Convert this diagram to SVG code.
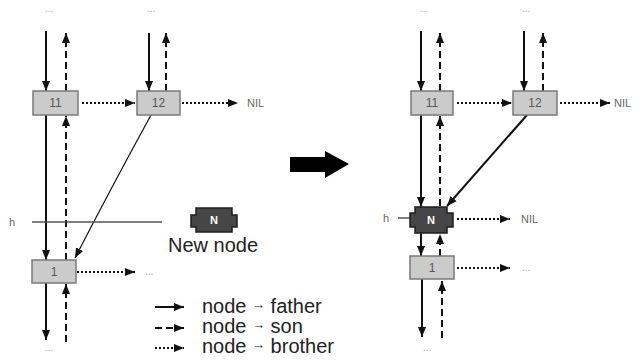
<svg xmlns="http://www.w3.org/2000/svg" width="639" height="363" viewBox="0 0 639 363">
<style>
.nd{fill:#cbcbcb;stroke:#7a7a7a;stroke-width:1.5}
.nn{fill:#464646;stroke:#1e1e1e;stroke-width:1.5}
.lb{font-family:"Liberation Sans",Arial,sans-serif;font-size:12px;fill:#555;text-anchor:middle}
.lw{font-family:"Liberation Sans",Arial,sans-serif;font-size:11px;fill:#fff;text-anchor:middle;font-weight:bold}
.sm{font-family:"Liberation Sans",Arial,sans-serif;font-size:11px;fill:#666}
.dots{font-family:"Liberation Sans",Arial,sans-serif;font-size:10px;fill:#aaa}
.big{font-family:"Liberation Sans",Arial,sans-serif;font-size:20px;fill:#222}
.sol{stroke:#111;stroke-width:2;fill:none}
.das{stroke:#111;stroke-width:2;fill:none;stroke-dasharray:7 4}
.dot{stroke:#111;stroke-width:2;fill:none;stroke-dasharray:2 2}
.thin{stroke:#111;stroke-width:1.2;fill:none}
</style>
<defs>
<marker id="ah" markerUnits="userSpaceOnUse" markerWidth="10" markerHeight="10" viewBox="0 0 10 10" refX="10" refY="5" orient="auto">
<path d="M0,1 L10,5 L0,9 Z" fill="#111"/>
</marker>
</defs>
<g id="connectors">
<line class="sol" x1="46" y1="31" x2="46" y2="91" marker-end="url(#ah)"/>
<line class="das" x1="66" y1="91" x2="66" y2="33" marker-end="url(#ah)"/>
<line class="sol" x1="149" y1="33" x2="149" y2="91" marker-end="url(#ah)"/>
<line class="das" x1="166" y1="91" x2="166" y2="33" marker-end="url(#ah)"/>
<line class="dot" x1="82" y1="103" x2="135" y2="103" marker-end="url(#ah)"/>
<line class="dot" x1="182" y1="103" x2="238" y2="103" marker-end="url(#ah)"/>
<line class="sol" x1="46" y1="115" x2="46" y2="260" marker-end="url(#ah)"/>
<line class="das" x1="66" y1="260" x2="66" y2="116" marker-end="url(#ah)"/>
<line class="sol" x1="46" y1="283" x2="46" y2="340" marker-end="url(#ah)"/>
<line class="das" x1="66" y1="342" x2="66" y2="284" marker-end="url(#ah)"/>
<line class="dot" x1="77" y1="272" x2="135" y2="272" marker-end="url(#ah)"/>
<path class="thin" d="M151,115 Q110,190 75,258" marker-end="url(#ah)"/>
<line x1="32" y1="222" x2="162" y2="222" stroke="#555" stroke-width="1.5"/>
<line class="sol" x1="421" y1="31" x2="421" y2="91" marker-end="url(#ah)"/>
<line class="das" x1="440" y1="91" x2="440" y2="33" marker-end="url(#ah)"/>
<line class="sol" x1="524" y1="31" x2="524" y2="91" marker-end="url(#ah)"/>
<line class="das" x1="543" y1="91" x2="543" y2="33" marker-end="url(#ah)"/>
<line class="dot" x1="457" y1="103" x2="512" y2="103" marker-end="url(#ah)"/>
<line class="dot" x1="560" y1="103" x2="610" y2="103" marker-end="url(#ah)"/>
<line class="sol" x1="421" y1="115" x2="421" y2="207" marker-end="url(#ah)"/>
<line class="das" x1="440" y1="206" x2="440" y2="116" marker-end="url(#ah)"/>
<line class="sol" x1="421" y1="233" x2="421" y2="256" marker-end="url(#ah)"/>
<line class="das" x1="440" y1="256" x2="440" y2="234" marker-end="url(#ah)"/>
<line class="sol" x1="422" y1="279" x2="422" y2="337" marker-end="url(#ah)"/>
<line class="das" x1="442" y1="338" x2="442" y2="281" marker-end="url(#ah)"/>
<line class="dot" x1="457" y1="219" x2="510" y2="219" marker-end="url(#ah)"/>
<line class="dot" x1="457" y1="268" x2="510" y2="268" marker-end="url(#ah)"/>
<line x1="527" y1="115" x2="447" y2="206" stroke="#111" stroke-width="2" marker-end="url(#ah)"/>
<line x1="398" y1="218" x2="410" y2="218" stroke="#555" stroke-width="1.5"/>
</g>
<g id="L11"><rect class="nd" x="33" y="91" width="45" height="24"/><text class="lb" x="55.5" y="107">11</text></g>
<g id="L12"><rect class="nd" x="137" y="91" width="43" height="24"/><text class="lb" x="158.5" y="107">12</text></g>
<g id="L1"><rect class="nd" x="32" y="260" width="44" height="23"/><text class="lb" x="54" y="276">1</text></g>
<g id="LN"><polygon class="nn" points="196,208 232,208 232,215 237,215 237,227 232,227 232,232 196,232 196,227 191,227 191,215 196,215"/><text class="lw" x="214" y="224">N</text></g>
<text class="big" x="168" y="252">New node</text>
<text class="sm" x="9" y="226">h</text>
<text class="sm" x="247" y="107">NIL</text>
<text class="dots" x="45" y="12">...</text>
<text class="dots" x="147" y="12">...</text>
<text class="dots" x="145" y="275">...</text>
<text class="dots" x="45" y="351">...</text>
<polygon points="290,157 325,157 325,151 349,164 325,178 325,172 290,172" fill="#000"/>
<g id="R11"><rect class="nd" x="411" y="91" width="42" height="24"/><text class="lb" x="432" y="107">11</text></g>
<g id="R12"><rect class="nd" x="513" y="91" width="44" height="24"/><text class="lb" x="535" y="107">12</text></g>
<g id="RN"><polygon class="nn" points="415,207 447,207 447,213 453,213 453,227 447,227 447,233 415,233 415,227 410,227 410,213 415,213"/><text class="lw" x="431" y="224">N</text></g>
<g id="R1"><rect class="nd" x="410" y="256" width="44" height="23"/><text class="lb" x="432" y="272">1</text></g>
<text class="sm" x="383" y="222">h</text>
<text class="sm" x="614" y="107">NIL</text>
<text class="sm" x="521" y="223">NIL</text>
<text class="dots" x="420" y="12">...</text>
<text class="dots" x="522" y="12">...</text>
<text class="dots" x="522" y="271">...</text>
<text class="dots" x="423" y="351">...</text>
<g id="legend">
<line class="sol" x1="155" y1="307" x2="184" y2="307" marker-end="url(#ah)"/>
<line class="das" x1="155" y1="328" x2="184" y2="328" marker-end="url(#ah)"/>
<line class="dot" x1="155" y1="348" x2="184" y2="348" marker-end="url(#ah)"/>
<text class="big" x="202" y="313">node <tspan font-size="13" dy="-4">→</tspan><tspan dy="4"> father</tspan></text>
<text class="big" x="202" y="333">node <tspan font-size="13" dy="-4">→</tspan><tspan dy="4"> son</tspan></text>
<text class="big" x="202" y="353">node <tspan font-size="13" dy="-4">→</tspan><tspan dy="4"> brother</tspan></text>
</g>
</svg>
